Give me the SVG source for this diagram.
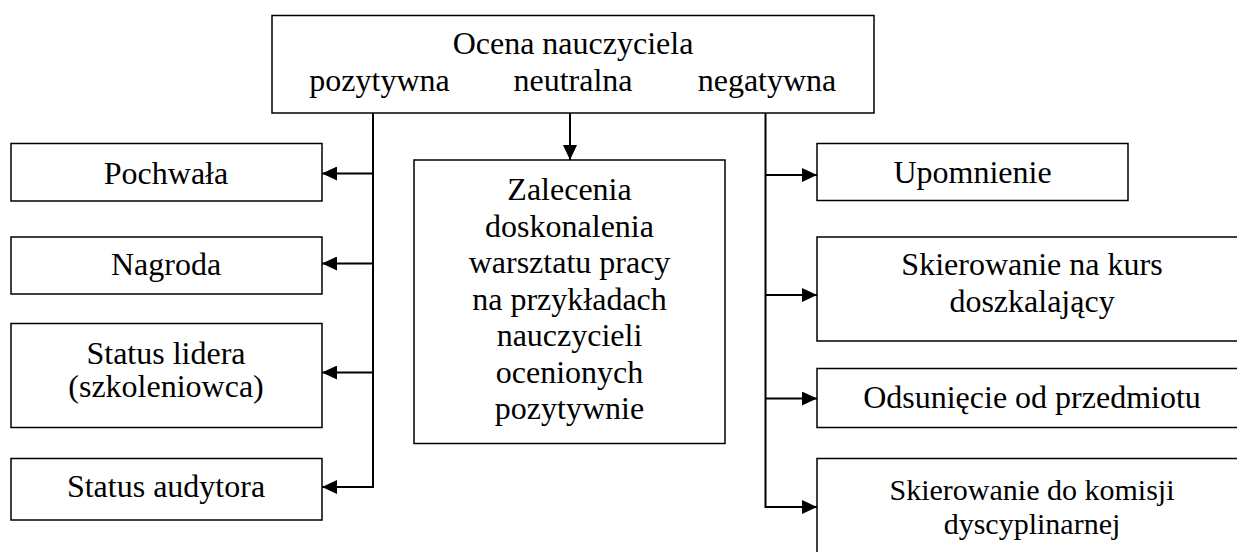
<svg xmlns="http://www.w3.org/2000/svg" width="1237" height="552" viewBox="0 0 1237 552">
<style>
.box{fill:#fff;stroke:#000;stroke-width:1.5}
.t{font-family:"Liberation Serif","Times New Roman",serif;font-size:32px;fill:#000;text-anchor:middle}
.s{font-size:30px}
.c{fill:none;stroke:#000;stroke-width:2}
</style>
<defs>
<marker id="ah" viewBox="0 0 15 14" refX="15" refY="7" markerWidth="15" markerHeight="14" markerUnits="userSpaceOnUse" orient="auto">
<path d="M0,0 L15,7 L0,14 z" fill="#000"/>
</marker>
</defs>
<rect width="1237" height="552" fill="#fff"/>
<g id="connectors">
<path class="c" d="M373,113 V487 H322" marker-end="url(#ah)"/>
<path class="c" d="M373,173.5 H322" marker-end="url(#ah)"/>
<path class="c" d="M373,263.5 H322" marker-end="url(#ah)"/>
<path class="c" d="M373,372.5 H322" marker-end="url(#ah)"/>
<path class="c" d="M570,113 V160" marker-end="url(#ah)"/>
<path class="c" d="M765.5,113 V507 H817" marker-end="url(#ah)"/>
<path class="c" d="M765.5,175 H817" marker-end="url(#ah)"/>
<path class="c" d="M765.5,295 H817" marker-end="url(#ah)"/>
<path class="c" d="M765.5,398.5 H817" marker-end="url(#ah)"/>
</g>
<g id="root">
<rect class="box" x="272" y="15.5" width="602" height="97.5"/>
<text class="t" x="573" y="54">Ocena nauczyciela</text>
<text class="t" x="379.5" y="91">pozytywna</text>
<text class="t" x="573" y="91">neutralna</text>
<text class="t" x="767" y="91">negatywna</text>
</g>
<g id="pochwala">
<rect class="box" x="11" y="143.5" width="311" height="57.5"/>
<text class="t" x="166" y="183.5">Pochwała</text>
</g>
<g id="nagroda">
<rect class="box" x="11" y="237" width="311" height="57"/>
<text class="t" x="166" y="275">Nagroda</text>
</g>
<g id="lider">
<rect class="box" x="11" y="323.5" width="311" height="104"/>
<text class="t" x="166" y="363.5">Status lidera</text>
<text class="t" x="166" y="397">(szkoleniowca)</text>
</g>
<g id="audytor">
<rect class="box" x="11" y="458.5" width="311" height="61.5"/>
<text class="t" x="166" y="497">Status audytora</text>
</g>
<g id="zalecenia">
<rect class="box" x="414" y="160" width="311" height="283.5"/>
<text class="t" x="569.5" y="200">Zalecenia</text>
<text class="t" x="569.5" y="236.5">doskonalenia</text>
<text class="t" x="569.5" y="273">warsztatu pracy</text>
<text class="t" x="569.5" y="309.5">na przykładach</text>
<text class="t" x="569.5" y="346">nauczycieli</text>
<text class="t" x="569.5" y="382.5">ocenionych</text>
<text class="t" x="569.5" y="419">pozytywnie</text>
</g>
<g id="upomnienie">
<rect class="box" x="817" y="143.5" width="311" height="57"/>
<text class="t" x="972.5" y="183">Upomnienie</text>
</g>
<g id="kurs">
<rect class="box" x="817" y="237" width="440" height="104"/>
<text class="t" x="1032" y="275">Skierowanie na kurs</text>
<text class="t" x="1032" y="312">doszkalający</text>
</g>
<g id="odsuniecie">
<rect class="box" x="817" y="368.5" width="440" height="59"/>
<text class="t" x="1032" y="407.5">Odsunięcie od przedmiotu</text>
</g>
<g id="komisja">
<rect class="box" x="817" y="458.5" width="440" height="120"/>
<text class="t s" x="1032" y="500">Skierowanie do komisji</text>
<text class="t s" x="1032" y="533.5">dyscyplinarnej</text>
</g>
</svg>
